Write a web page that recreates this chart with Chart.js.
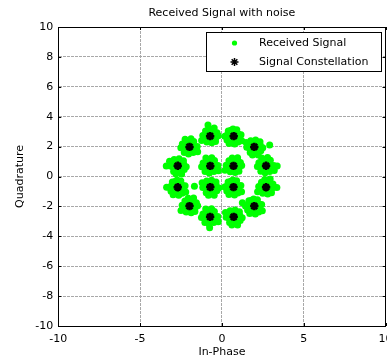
<!DOCTYPE html>
<html>
<head>
<meta charset="utf-8">
<script src="https://cdn.jsdelivr.net/npm/chart.js@4/dist/chart.umd.min.js"></script>
<style>
html,body{margin:0;padding:0;background:#fff;overflow:hidden;width:387px;height:361px;}
canvas{display:block;}
</style>
</head>
<body>
<canvas id="c" width="400" height="361"></canvas>
<script>
// ---- data ----
const titleText = 'Received Signal with noise';
const xLabel = 'In-Phase';
const yLabel = 'Quadrature';
const seriesNames = ['Received Signal', 'Signal Constellation'];
const xTicks = [-10, -5, 0, 5, 10];
const yTicks = [-10, -8, -6, -4, -2, 0, 2, 4, 6, 8, 10];

// ideal 16-APSK constellation points (in-phase, quadrature)
const constI = [0.71, -0.71, -0.71, 0.71, 2.70, 1.98, 0.72, -0.72, -1.98, -2.70, -2.70, -1.98, -0.72, 0.72, 1.98, 2.70];
const constQ = [0.71, 0.71, -0.71, -0.71, 0.72, 1.98, 2.70, 2.70, 1.98, 0.72, -0.72, -1.98, -2.70, -2.70, -1.98, -0.72];

// received (noisy) samples
const recvI = [
 0.71,0.92,0.53,0.78,0.66,1.06,0.38,0.86,0.43,1.13,0.26,0.81,0.51,1.04,1.21,0.63,0.19,0.96,
 -0.69,-0.93,-0.54,-0.81,-0.67,-1.08,-0.40,-0.85,-0.45,-1.15,-0.24,-0.77,-0.49,-1.03,-1.24,-0.62,-0.21,-0.98,
 -0.74,-0.52,-0.91,-0.66,-0.79,-0.35,-1.05,-0.53,-0.96,-0.31,-1.17,-0.63,-0.93,-0.36,-0.19,-0.82,-1.21,-0.47,
 0.72,0.51,0.93,0.65,0.81,0.35,1.03,0.54,0.98,0.30,1.16,0.67,0.90,0.38,0.17,0.77,1.20,0.43,
 2.72,2.48,2.87,2.60,2.74,2.33,3.01,2.56,2.96,2.26,3.17,2.64,2.92,2.38,2.17,2.79,3.20,2.43,3.38,
 1.95,2.17,1.78,2.03,1.90,2.34,1.64,2.16,1.73,2.38,1.52,2.06,1.76,2.33,2.50,1.87,1.48,2.22,2.92,
 0.73,0.52,0.94,0.66,0.82,0.36,1.04,0.55,0.99,0.31,1.17,0.68,0.91,0.39,0.18,0.78,1.21,0.44,
 -0.72,-0.51,-0.90,-0.65,-0.77,-0.37,-1.05,-0.57,-1.00,-0.30,-1.17,-0.62,-0.92,-0.39,-0.22,-0.80,-1.24,-0.47,-0.85,
 -1.96,-2.20,-1.81,-2.08,-1.94,-2.35,-1.67,-2.12,-1.72,-2.42,-1.51,-2.04,-1.76,-2.30,-2.51,-1.89,-1.48,-2.25,
 -2.73,-2.51,-2.90,-2.65,-2.78,-2.34,-3.04,-2.52,-2.95,-2.30,-3.16,-2.62,-2.92,-2.35,-2.18,-2.81,-3.20,-2.46,-3.40,
 -2.69,-2.90,-2.48,-2.76,-2.60,-3.06,-2.38,-2.87,-2.43,-3.11,-2.25,-2.74,-2.51,-3.03,-3.24,-2.64,-2.21,-2.98,-3.38,
 -1.98,-1.77,-2.16,-1.91,-2.03,-1.63,-2.31,-1.83,-2.26,-1.56,-2.43,-1.88,-2.18,-1.65,-1.48,-2.06,-2.50,-1.73,-1.68,
 -0.70,-0.94,-0.55,-0.82,-0.68,-1.09,-0.41,-0.86,-0.46,-1.16,-0.25,-0.78,-0.50,-1.04,-1.25,-0.63,-0.22,-0.99,-0.75,
 0.69,0.91,0.52,0.77,0.64,1.08,0.38,0.90,0.47,1.12,0.26,0.80,0.50,1.07,1.24,0.61,0.22,0.96,
 1.99,1.78,2.20,1.92,2.08,1.62,2.30,1.81,2.25,1.57,2.43,1.94,2.17,1.65,1.44,2.04,2.47,1.70,1.25,
 2.70,2.91,2.52,2.77,2.65,3.05,2.37,2.85,2.42,3.12,2.25,2.80,2.50,3.03,3.20,2.62,2.18,2.95,3.36,
 0.83,0.56,0.99,0.44,0.73,0.61,
 -0.83,-0.55,-0.99,-0.45,-0.74,-0.60,
 -0.57,-0.88,-0.42,-0.96,-0.68,-0.80,
 0.57,0.86,0.42,0.98,0.69,0.81,
 2.82,2.55,2.98,2.43,2.72,2.60,
 1.86,2.14,1.70,2.24,1.95,2.09,
 0.86,0.55,1.01,0.47,0.75,0.63,
 -0.86,-0.57,-1.01,-0.45,-0.74,-0.62,
 -1.86,-2.13,-1.70,-2.25,-1.96,-2.08,
 -2.82,-2.54,-2.98,-2.44,-2.73,-2.59,
 -2.56,-2.87,-2.41,-2.95,-2.67,-2.79,
 -2.12,-1.83,-2.27,-1.71,-2.00,-1.88,
 -0.60,-0.87,-0.44,-0.99,-0.70,-0.82,
 0.60,0.88,0.44,0.98,0.69,0.83,
 2.12,1.81,2.27,1.73,2.01,1.89,
 2.56,2.85,2.41,2.97,2.68,2.80
];
const recvQ = [
 0.71,0.76,0.83,0.47,1.01,0.61,0.56,1.09,1.05,0.93,0.76,0.26,0.31,0.35,0.73,1.23,0.41,1.26,
 0.68,0.79,0.86,0.45,1.04,0.65,0.53,1.11,1.07,0.91,0.73,0.24,0.33,0.34,0.66,1.26,0.39,1.23,
 -0.69,-0.81,-0.80,-0.46,-1.03,-0.59,-0.53,-1.08,-1.09,-0.96,-0.73,-0.25,-0.30,-0.37,-0.77,-1.25,-0.41,-1.26,
 -0.68,-0.78,-0.61,-0.98,-0.40,-0.57,-0.91,-0.32,-1.11,-0.97,-0.61,-0.23,-0.29,-0.36,-0.71,-1.24,-1.02,-1.21,
 0.69,0.80,0.87,0.46,1.05,0.66,0.54,1.12,1.08,0.92,0.74,0.25,0.34,0.35,0.67,1.27,0.40,1.24,0.70,
 2.00,1.88,1.89,2.23,1.66,2.10,2.16,1.61,1.60,1.73,1.96,2.44,2.39,2.32,1.92,1.44,2.28,1.43,2.10,
 2.73,2.63,2.80,2.43,3.01,2.84,2.50,3.09,2.30,2.44,2.80,3.18,3.12,3.05,2.70,2.17,2.39,2.20,
 2.70,2.75,2.82,2.46,3.00,2.60,2.55,3.08,3.04,2.92,2.75,2.25,2.30,2.34,2.72,3.22,2.40,3.25,3.45,
 1.95,2.06,2.13,1.72,2.31,1.92,1.80,2.38,2.34,2.18,2.00,1.51,1.60,1.61,1.93,2.53,1.66,2.50,
 0.74,0.62,0.63,0.97,0.40,0.84,0.90,0.35,0.34,0.47,0.70,1.18,1.13,1.06,0.66,0.18,1.02,0.17,0.70,
 -0.69,-0.79,-0.62,-0.99,-0.41,-0.58,-0.92,-0.33,-1.12,-0.98,-0.62,-0.24,-0.30,-0.37,-0.72,-1.25,-1.03,-1.22,-0.72,
 -1.98,-1.93,-1.86,-2.22,-1.68,-2.08,-2.13,-1.60,-1.64,-1.76,-1.93,-2.43,-2.38,-2.34,-1.96,-1.46,-2.28,-1.43,-0.66,
 -2.73,-2.62,-2.55,-2.96,-2.37,-2.76,-2.88,-2.30,-2.34,-2.50,-2.68,-3.17,-3.08,-3.07,-2.75,-2.15,-3.02,-2.18,-3.42,
 -2.68,-2.80,-2.79,-2.45,-3.02,-2.58,-2.52,-3.07,-3.08,-2.95,-2.72,-2.24,-2.29,-2.36,-2.76,-3.24,-2.40,-3.25,
 -1.95,-2.05,-1.88,-2.25,-1.67,-1.84,-2.18,-1.59,-2.38,-2.24,-1.88,-1.50,-1.56,-1.63,-1.98,-2.51,-2.29,-2.48,-1.75,
 -0.72,-0.67,-0.60,-0.96,-0.42,-0.82,-0.87,-0.34,-0.38,-0.50,-0.67,-1.17,-1.12,-1.08,-0.70,-0.20,-1.02,-0.17,-0.74,
 0.91,0.49,0.59,0.74,0.57,0.89,
 0.89,0.51,0.61,0.77,0.56,0.93,
 -0.89,-0.47,-0.57,-0.76,-0.56,-0.91,
 -0.90,-0.50,-0.59,-0.75,-0.55,-0.92,
 0.92,0.50,0.60,0.75,0.58,0.90,
 2.16,1.78,1.88,2.04,1.83,2.20,
 2.52,2.94,2.84,2.65,2.85,2.50,
 2.51,2.91,2.82,2.66,2.86,2.49,
 2.18,1.76,1.86,2.01,1.84,2.16,
 0.90,0.52,0.62,0.78,0.57,0.94,
 -0.90,-0.48,-0.58,-0.77,-0.57,-0.92,
 -2.17,-1.77,-1.86,-2.02,-1.82,-2.19,
 -2.50,-2.92,-2.82,-2.67,-2.84,-2.52,
 -2.52,-2.90,-2.80,-2.64,-2.85,-2.48,
 -2.16,-1.74,-1.84,-2.03,-1.83,-2.18,
 -0.91,-0.51,-0.60,-0.76,-0.56,-0.93
];

// ---- build ----
const FONT = {family: "'DejaVu Sans', sans-serif", size: 11};
const recvPts = recvI.map((v, i) => ({x: v, y: recvQ[i]}));
const constPts = constI.map((v, i) => ({x: v, y: constQ[i]}));

const boxPlugin = {
  id: 'matlabBox',
  afterDatasetsDraw(chart) {
    const {ctx, chartArea: a, scales} = chart;
    ctx.save();
    ctx.strokeStyle = '#000';
    ctx.lineWidth = 1;
    // inward tick marks
    ctx.beginPath();
    xTicks.forEach(t => {
      const px = Math.round(scales.x.getPixelForValue(t)) + 0.5;
      ctx.moveTo(px, a.bottom); ctx.lineTo(px, a.bottom - 3);
      ctx.moveTo(px, a.top); ctx.lineTo(px, a.top + 3);
    });
    yTicks.forEach(t => {
      const py = Math.round(scales.y.getPixelForValue(t)) + 0.5;
      ctx.moveTo(a.left, py); ctx.lineTo(a.left + 3, py);
      ctx.moveTo(a.right, py); ctx.lineTo(a.right - 3, py);
    });
    ctx.stroke();
    ctx.strokeRect(Math.round(a.left) + 0.5, Math.round(a.top) + 0.5,
                   Math.round(a.right - a.left), Math.round(a.bottom - a.top));
    // legend
    const lx = 206, ly = 32, lw = 175, lh = 39;
    ctx.fillStyle = '#fff';
    ctx.fillRect(lx, ly, lw, lh);
    ctx.strokeRect(lx + 0.5, ly + 0.5, lw, lh);
    const ds = chart.data.datasets.slice().sort((p, q) => q.order - p.order);
    const rows = [43, 62];
    ds.forEach((d, i) => {
      const st = d.legendStyle;
      ctx.fillStyle = d.backgroundColor;
      ctx.strokeStyle = d.borderColor;
      ctx.lineWidth = st.borderWidth;
      Chart.helpers.drawPoint(ctx, {pointStyle: st.pointStyle, radius: st.radius, borderWidth: st.borderWidth, rotation: 0}, 234.5, rows[i]);
      ctx.fillStyle = '#000';
      ctx.font = "11px 'DejaVu Sans', sans-serif";
      ctx.textBaseline = 'middle';
      ctx.textAlign = 'left';
      ctx.fillText(d.label, 259, rows[i]);
    });
    ctx.restore();
  }
};

new Chart(document.getElementById('c'), {
  type: 'scatter',
  data: {
    datasets: [
      {
        label: seriesNames[0], data: recvPts, order: 1,
        pointStyle: 'circle', pointRadius: 3.5, borderWidth: 0,
        borderColor: '#00ff00', backgroundColor: '#00ff00',
        legendStyle: {pointStyle: 'circle', radius: 2.6, borderWidth: 0}
      },
      {
        label: seriesNames[1], data: constPts, order: 0,
        pointStyle: 'star', pointRadius: 4.2, borderWidth: 2.5,
        borderColor: '#000', backgroundColor: '#000',
        legendStyle: {pointStyle: 'star', radius: 4, borderWidth: 1.5}
      }
    ]
  },
  options: {
    responsive: false,
    devicePixelRatio: 1,
    animation: false,
    events: [],
    layout: {padding: {top: 0, left: 0, right: 14.5, bottom: 0}},
    plugins: {
      legend: {display: false},
      tooltip: {enabled: false},
      title: {
        display: true, text: titleText, fullSize: false,
        color: '#000', font: {family: FONT.family, size: 11, weight: 'normal'},
        padding: {top: 7, bottom: 6.8}
      }
    },
    scales: {
      x: {
        type: 'linear', min: -10, max: 10,
        afterBuildTicks: s => { s.ticks = xTicks.map(v => ({value: v})); },
        afterFit: s => { s.height = 35; },
        ticks: {color: '#000', font: FONT, padding: 7, maxRotation: 0, autoSkip: false},
        grid: {color: '#a8a8a8', drawTicks: false, lineWidth: 1},
        border: {display: true, color: '#000', dash: [3, 1]},
        title: {display: true, text: xLabel, color: '#000', font: FONT, padding: {top: 0, bottom: 2}}
      },
      y: {
        type: 'linear', min: -10, max: 10,
        afterBuildTicks: s => { s.ticks = yTicks.map(v => ({value: v})); },
        afterFit: s => { s.width = 58.3; },
        ticks: {color: '#000', font: FONT, padding: 5, autoSkip: false},
        grid: {color: '#a8a8a8', drawTicks: false, lineWidth: 1},
        border: {display: true, color: '#000', dash: [3, 1]},
        title: {display: true, text: yLabel, color: '#000', font: FONT, padding: {top: 14, bottom: 0}}
      }
    }
  },
  plugins: [boxPlugin]
});
</script>
</body>
</html>
